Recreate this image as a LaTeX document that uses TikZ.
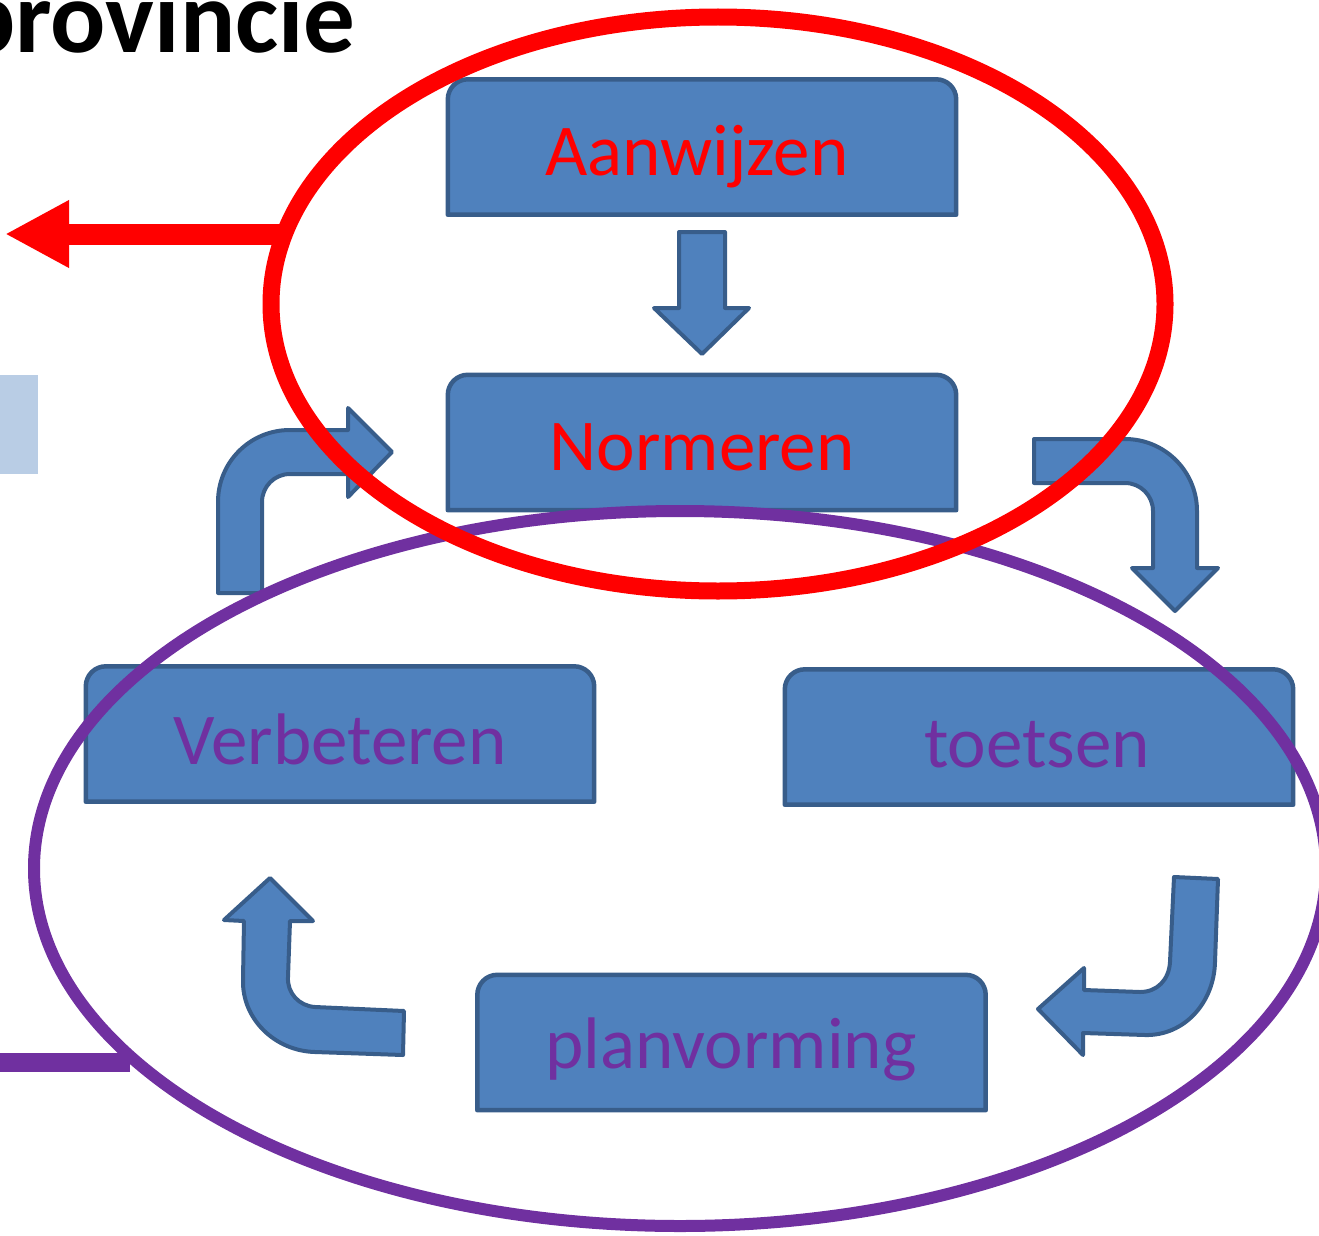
\documentclass[tikz,border=0pt]{standalone}
\usepackage{fontspec}
\setmainfont{Carlito}
\usetikzlibrary{arrows.meta,shapes.geometric,backgrounds}
\definecolor{boxfill}{HTML}{4F81BD}
\definecolor{boxedge}{HTML}{385D8A}
\definecolor{redc}{HTML}{FF0000}
\definecolor{purp}{HTML}{7030A0}
\definecolor{lightblue}{HTML}{B9CDE5}
\tikzset{
  box/.style={minimum width=508pt, minimum height=135pt, inner sep=0pt},
  boxline/.style={fill=boxfill, draw=boxedge, line width=4.5pt, line join=round},
  blockarrow/.style={fill=boxfill, draw=boxedge, line width=4pt, line join=round},
  boxtext/.style={anchor=base, inner sep=0pt, font=\fontsize{73}{80}\selectfont},
}
\newcommand\topbox[1]{\draw[boxline] (#1.south west) [rounded corners=20pt] -- (#1.north west) -- (#1.north east) [sharp corners] -- (#1.south east) -- cycle;}
\begin{document}
\begin{tikzpicture}[x=1pt,y=-1pt]
\useasboundingbox (0,0) rectangle (1319,1236);
% boxes (frames)
\node[box] (aan) at (702,147) {};
\node[box] (norm) at (702,442.5) {};
\node[box] (verb) at (340,734) {};
\node[box] (toets) at (1039,737) {};
\node[box] (plan) at (731.5,1042.5) {};
\begin{scope}[on background layer]
\topbox{aan}\topbox{norm}\topbox{verb}\topbox{toets}\topbox{plan}
\end{scope}
% texts
\node[boxtext, text=redc] (taan) at (697,175) {Aanwijzen};
\node[boxtext, text=redc] (tnorm) at (702,470) {Normeren};
\node[boxtext, text=purp] (tverb) at (340,764) {Verbeteren};
\node[boxtext, text=purp] (ttoets) at (1037,767) {toetsen};
\node[boxtext, text=purp] (tplan) at (731,1068) {planvorming};
% title fragment
\node[anchor=base west, inner sep=0pt, font=\fontsize{103}{110}\selectfont\bfseries] (title) at (-40,53) {provincie};
% light blue fragment
\fill[lightblue] (0,375) rectangle (38,474);
% block arrows
\draw[blockarrow] (679,232) -- (725,232) -- (725,308) -- (749,308) -- (702,354) -- (654,308) -- (679,308) -- cycle;
\draw[blockarrow] (218,593) -- (218,502) .. controls (218,462) and (250,430) .. (290,430) -- (348,430) -- (348,408) -- (392,452) -- (348,497) -- (348,474) -- (290,474) .. controls (274.5,474) and (262,486.5) .. (262,502) -- (262,593) -- cycle;
\draw[blockarrow] (1034,439) -- (1125,439) .. controls (1164.7,439) and (1197,471.3) .. (1197,511) -- (1197,568) -- (1218,568) -- (1175,611) -- (1132,568) -- (1153,568) -- (1153,511) .. controls (1153,495.5) and (1140.5,483) .. (1125,483) -- (1034,483) -- cycle;
\draw[blockarrow] (1174,877) -- (1218,879) -- (1215,962) .. controls (1214,1003) and (1184,1036) .. (1145,1035) -- (1083,1033) -- (1083,1055) -- (1038,1009) -- (1084,968) -- (1084,990) -- (1140,992) .. controls (1157,992) and (1169,980) .. (1170,962) -- cycle;
\draw[blockarrow] (270,878) -- (313,921) -- (290,921) -- (288,977) .. controls (287,993) and (299,1006) .. (315,1007) -- (404,1011) -- (403,1055) -- (315,1052) .. controls (275,1051) and (242,1019) .. (243,980) -- (244,921) -- (224,920) -- cycle;
% purple line and ellipse
\coordinate (pstart) at (130,1062);
\coordinate (pend) at (0,1062);
\draw[purp, line width=19pt] (pstart) -- (pend);
\node[ellipse, draw=purp, line width=12pt, minimum width=1292pt, minimum height=715pt, inner sep=0pt] (purpell) at (680,868.5) {};
% red ellipse and arrow
\node[ellipse, draw=redc, line width=17pt, minimum width=894pt, minimum height=574pt, inner sep=0pt] (redell) at (718,304) {};
\coordinate (rstart) at (285,234);
\coordinate (rtip) at (5,234);
\draw[redc, line width=21pt, -{Triangle[length=64pt,width=63pt]}] (rstart) -- (rtip);
\end{tikzpicture}
\end{document}
